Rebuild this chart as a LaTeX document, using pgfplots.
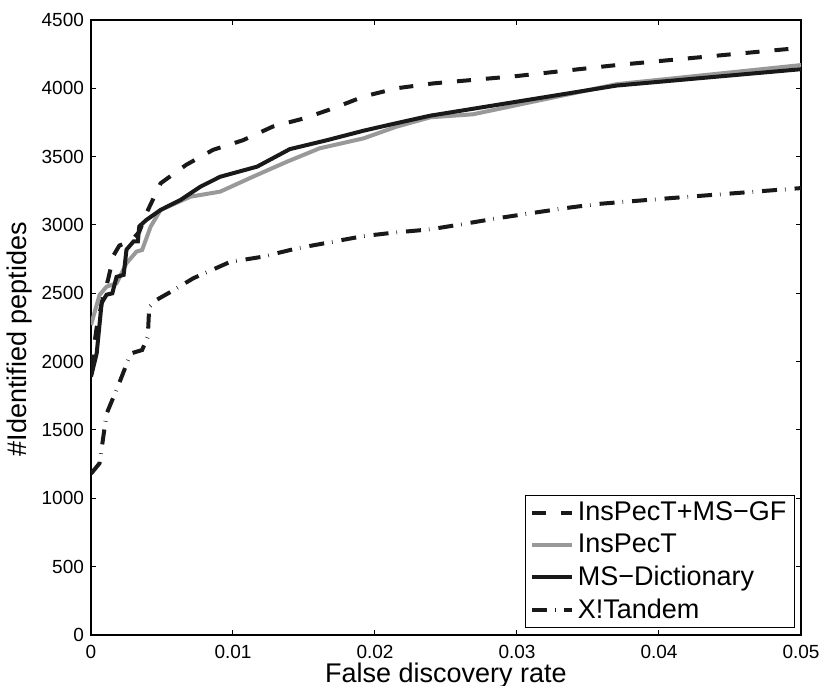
\documentclass[border=0pt]{standalone}
\usepackage{fontspec}
\setmainfont{Liberation Sans}
\usepackage{pgfplots}
\pgfplotsset{compat=1.18}

\definecolor{lgray}{gray}{0.6}
\definecolor{dk}{gray}{0.1}

\begin{document}
\begin{tikzpicture}
\begin{axis}[
    width=355pt, height=307.5pt,
    scale only axis,
    xmin=0, xmax=0.05,
    ymin=0, ymax=4500,
    xtick={0,0.01,0.02,0.03,0.04,0.05},
    xticklabels={0,0.01,0.02,0.03,0.04,0.05},
    ytick={0,500,...,4500},
    scaled ticks=false,
    tick align=inside,
    major tick length=2.5pt,
    tick style={black, line width=0.5pt},
    axis line style={black, line width=0.6pt},
    /pgf/number format/assume math mode=true,
    /pgf/number format/1000 sep={},
    ticklabel style={font=\fontsize{9.5}{11}\selectfont},
    xticklabel style={yshift=-1.5pt},
    xlabel={False discovery rate},
    ylabel={\#Identified peptides},
    label style={font=\fontsize{13.5}{15.5}\selectfont},
    xlabel style={at={(axis description cs:0.5,0)}, anchor=base, yshift=-24pt},
    ylabel style={at={(axis description cs:-0.073,0.481)}, anchor=south, rotate=0},
    legend style={at={(rel axis cs:0.9915,0.0114)}, anchor=south east,
        draw=black, line width=0.6pt, font=\fontsize{13.5}{15.5}\selectfont,
        inner xsep=2pt, inner ysep=1pt, row sep=1.2pt},
    legend cell align=left,
    legend image code/.code={\draw[#1] (0pt,0pt) -- (20pt,0pt);},
]

% InsPecT+MS-GF
\addplot[dk, line width=2pt, dash pattern=on 7pt off 7.5pt] coordinates {
(0,1950) (0.0004,2250) (0.0008,2450) (0.0012,2600) (0.0016,2780) (0.002,2850)
(0.0028,2880) (0.0034,2950) (0.0039,3085) (0.0049,3305) (0.0067,3440)
(0.0086,3550) (0.0107,3620) (0.0128,3720) (0.015,3780) (0.0171,3855)
(0.0192,3940) (0.0215,4000) (0.0241,4036) (0.03,4090) (0.037,4170)
(0.0488,4285) (0.05,4295)};
\addlegendentry{InsPecT+MS\textminus GF}

% InsPecT
\addplot[lgray, line width=2pt] coordinates {
(0,2268) (0.0006,2488) (0.0011,2549) (0.0018,2573) (0.0025,2720) (0.0032,2805)
(0.0036,2817) (0.0042,2988) (0.0049,3110) (0.007,3207) (0.0091,3244)
(0.0114,3353) (0.0138,3463) (0.0161,3561) (0.0192,3634) (0.0215,3719)
(0.0239,3788) (0.0269,3810) (0.037,4030) (0.05,4170)};
\addlegendentry{InsPecT}

% MS-Dictionary
\addplot[dk, line width=2pt] coordinates {
(0,1890) (0.0004,2060) (0.00075,2430) (0.0011,2490) (0.0015,2500) (0.0018,2620)
(0.0023,2635) (0.0025,2820) (0.003,2880) (0.0033,2880) (0.0034,2990)
(0.0039,3037) (0.0049,3110) (0.0063,3183) (0.0077,3280) (0.0091,3353)
(0.0117,3427) (0.014,3555) (0.0166,3620) (0.0192,3690) (0.0213,3740)
(0.0239,3800) (0.037,4020) (0.05,4140)};
\addlegendentry{MS\textminus Dictionary}

% X!Tandem
\addplot[dk, line width=2pt, dash pattern=on 7.5pt off 4pt on 0.3pt off 4.5pt] coordinates {
(0,1180) (0.0006,1256) (0.0011,1620) (0.0019,1820) (0.0028,2060) (0.0036,2085)
(0.004,2183) (0.0041,2400) (0.0046,2451) (0.0056,2510) (0.0072,2610)
(0.0098,2730) (0.0121,2768) (0.0145,2829) (0.0168,2873) (0.0192,2919)
(0.0215,2946) (0.0239,2968) (0.0262,3007) (0.0286,3049) (0.0309,3085)
(0.0333,3122) (0.0356,3153) (0.04,3190) (0.045,3230) (0.05,3270)};
\addlegendentry{X!Tandem}

\coordinate (bl) at (rel axis cs:0,0);
\coordinate (tr) at (rel axis cs:1,1);
\end{axis}
\pgfresetboundingbox
\path ([shift={(-45.5pt,-25.5pt)}]bl) rectangle ([shift={(11.5pt,10pt)}]tr);
\end{tikzpicture}
\end{document}
